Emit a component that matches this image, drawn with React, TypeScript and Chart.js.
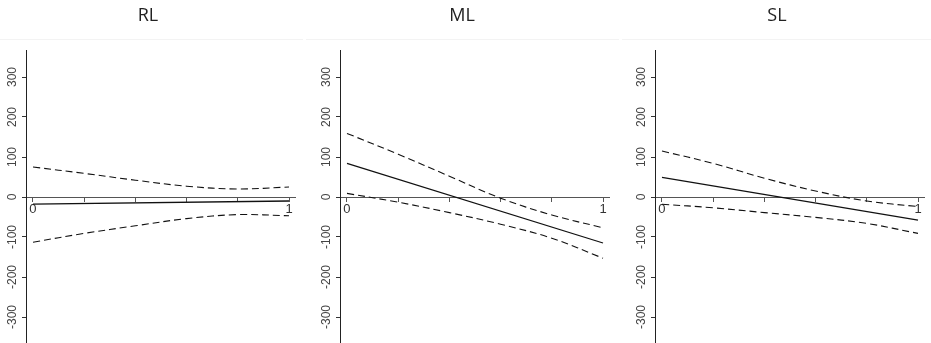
import React, { useEffect, useRef } from "react";
import { Chart, registerables } from "chart.js";

Chart.register(...registerables);

// ---- data ----
const panelTitles = ["RL", "ML", "SL"];
const bandX = [0, 0.2, 0.4, 0.6, 0.8, 1];
const fitX = [0, 1];
const xTickValues = [0, 0.2, 0.4, 0.6, 0.8, 1];
const xTickLabels = ["0", "", "", "", "", "1"];
const yTickValues = [-300, -200, -100, 0, 100, 200, 300];
const yTickLabels = ["-300", "-200", "-100", "0", "100", "200", "300"];

const rlFit = [-18, -10];
const rlUpper = [75, 59, 42, 27, 20, 25];
const rlLower = [-113, -91, -72, -54, -44, -47];

const mlFit = [84, -115];
const mlUpper = [159, 107, 52, -3, -45, -77];
const mlLower = [9, -13, -39, -68, -103, -153];

const slFit = [49, -58];
const slUpper = [115, 84, 47, 15, -10, -24];
const slLower = [-18, -27, -39, -51, -66, -91];

const panelFits = [rlFit, mlFit, slFit];
const panelUppers = [rlUpper, mlUpper, slUpper];
const panelLowers = [rlLower, mlLower, slLower];

// ---- layout ----
const PANEL_LEFT = [0, 314, 629];
const PANEL_W = 296;
const PANEL_H = 343;
const SEPARATORS = [
  [0, 303],
  [306, 619],
  [622, 931],
];

function Panel({ index }: { index: number }) {
  const ref = useRef<HTMLCanvasElement | null>(null);
  useEffect(() => {
    if (!ref.current) return;
    const fit = panelFits[index];
    const upper = panelUppers[index];
    const lower = panelLowers[index];
    const chart = new Chart(ref.current, {
      type: "line",
      data: {
        datasets: [
          {
            data: fitX.map((x, i) => ({ x, y: fit[i] })),
            borderColor: "#111",
            borderWidth: 1.3,
            pointRadius: 0,
            fill: false,
            tension: 0,
          },
          {
            data: bandX.map((x, i) => ({ x, y: upper[i] })),
            borderColor: "#111",
            borderWidth: 1.1,
            borderDash: [7, 4],
            pointRadius: 0,
            fill: false,
            tension: 0.35,
          },
          {
            data: bandX.map((x, i) => ({ x, y: lower[i] })),
            borderColor: "#111",
            borderWidth: 1.1,
            borderDash: [7, 4],
            pointRadius: 0,
            fill: false,
            tension: 0.35,
          },
        ],
      },
      options: {
        animation: false,
        responsive: false,
        devicePixelRatio: 1,
        layout: { padding: 0 },
        plugins: {
          legend: { display: false },
          tooltip: { enabled: false },
          title: {
            display: true,
            text: panelTitles[index],
            color: "#222",
            font: { family: "'Open Sans'", size: 18, weight: "normal", lineHeight: 1.2 },
            padding: { top: 5, bottom: 23.4 },
          },
        },
        scales: {
          x: {
            type: "linear",
            position: { y: 0 } as any,
            min: -0.0273,
            max: 1.0273,
            afterBuildTicks: (s: any) => {
              s.ticks = xTickValues.map((v) => ({ value: v }));
            },
            afterFit: (s: any) => {
              s.paddingLeft = 0;
              s.paddingRight = 0;
            },
            ticks: {
              autoSkip: false,
              maxRotation: 0,
              minRotation: 0,
              padding: 1,
              color: "#333",
              font: { family: "'Liberation Sans', Arial", size: 13 },
              callback: (_v: any, i: number) => xTickLabels[i],
            },
            grid: { drawOnChartArea: false, drawTicks: true, tickLength: 4, color: "#555" },
            border: { display: true, color: "#555", width: 1 },
          },
          y: {
            type: "linear",
            position: "left",
            min: -365,
            max: 367.5,
            afterBuildTicks: (s: any) => {
              s.ticks = yTickValues.map((v) => ({ value: v }));
            },
            afterFit: (s: any) => {
              s.width = 26;
              s.paddingTop = 0;
              s.paddingBottom = 0;
            },
            ticks: {
              autoSkip: false,
              minRotation: 90,
              maxRotation: 90,
              crossAlign: "center",
              padding: -2.5,
              color: "#444",
              font: { family: "'Liberation Sans', Arial", size: 12 },
              callback: (_v: any, i: number) => yTickLabels[i],
            },
            grid: { drawOnChartArea: false, drawTicks: true, tickLength: 4, color: "#333" },
            border: { display: true, color: "#222", width: 1 },
          },
        },
      } as any,
    });
    return () => chart.destroy();
  }, [index]);

  return (
    <div
      style={{
        position: "absolute",
        left: PANEL_LEFT[index],
        top: 0,
        width: PANEL_W,
        height: PANEL_H,
      }}
    >
      <canvas ref={ref} width={PANEL_W} height={PANEL_H} style={{ display: "block" }} />
    </div>
  );
}

export default function App() {
  return (
    <div
      style={{
        position: "absolute",
        left: 0,
        top: 0,
        width: 931,
        height: 343,
        background: "#fff",
        overflow: "hidden",
      }}
    >
      {SEPARATORS.map(([a, b], i) => (
        <div
          key={i}
          style={{
            position: "absolute",
            left: a,
            top: 39,
            width: b - a,
            height: 0,
            borderTop: "1px solid #f3f3f3",
          }}
        />
      ))}
      {panelTitles.map((_, i) => (
        <Panel key={i} index={i} />
      ))}
    </div>
  );
}
